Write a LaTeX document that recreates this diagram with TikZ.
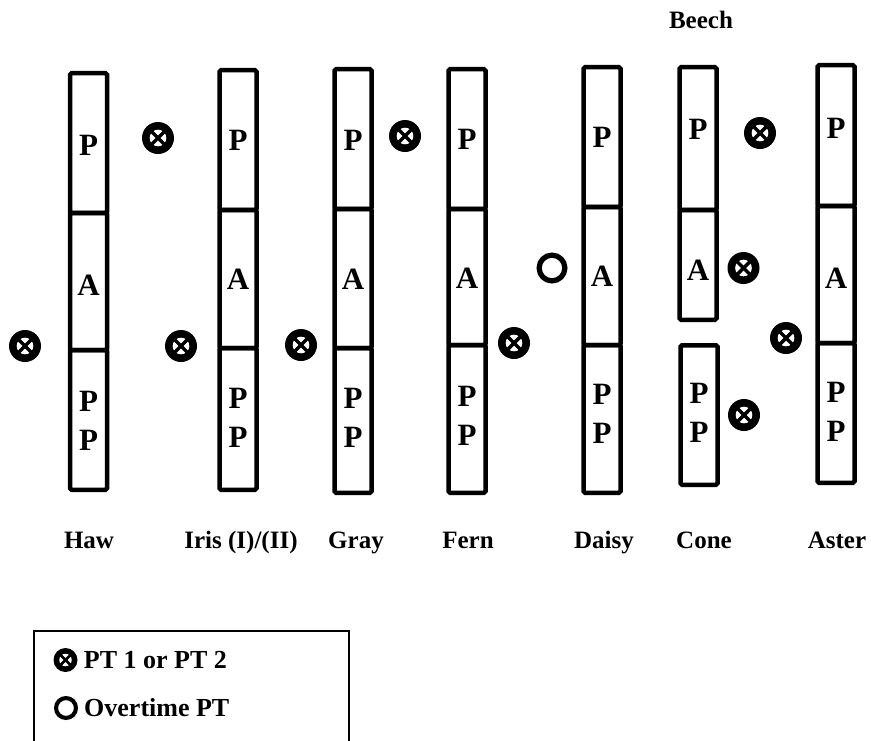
\documentclass[tikz,border=0pt]{standalone}
\usepackage{fontspec}
\setmainfont{Liberation Serif}
\usetikzlibrary{positioning}

\begin{document}
\begin{tikzpicture}[
    x=1pt, y=-1pt,
    strip/.style={draw, line width=4.5pt, rounded corners=1.5pt, minimum width=37pt, inner sep=0pt},
    letter/.style={inner sep=0pt, align=center, font=\bfseries\fontsize{31}{39}\selectfont},
    lbl/.style={inner sep=0pt, anchor=base, font=\bfseries\fontsize{25}{28}\selectfont},
    ptmark/.style={circle, fill=black, inner sep=0pt, minimum size=#1,
        path picture={
            \fill[white] (path picture bounding box.center) circle[radius=0.26*#1];
            \draw[line width=0.11*#1] ([shift={(-0.2*#1,-0.2*#1)}]path picture bounding box.center) -- ([shift={(0.2*#1,0.2*#1)}]path picture bounding box.center);
            \draw[line width=0.11*#1] ([shift={(-0.2*#1,0.2*#1)}]path picture bounding box.center) -- ([shift={(0.2*#1,-0.2*#1)}]path picture bounding box.center);
        }},
    ovmark/.style={circle, draw, inner sep=0pt, line width=0.17*#1, minimum size=0.83*#1},
    legbox/.style={draw, line width=1.8pt, inner sep=0pt},
    legtext/.style={inner sep=0pt, font=\bfseries\fontsize{26}{30}\selectfont}
]
\useasboundingbox (0,0) rectangle (871,740);

% strips
\node[strip, minimum height=139.75pt] (haw1) at (88.5,143.1) {};
\node[strip, minimum height=137pt] (haw2) at (88.5,281.5) {};
\node[strip, minimum height=139.75pt] (haw3) at (88.5,419.9) {};

\node[strip, minimum height=139.75pt] (iris1) at (238,140.1) {};
\node[strip, minimum height=138pt] (iris2) at (238,279) {};
\node[strip, minimum height=141.75pt] (iris3) at (238,418.9) {};

\node[strip, minimum height=139.75pt] (gray1) at (353,139.1) {};
\node[strip, minimum height=139pt] (gray2) at (353,278.5) {};
\node[strip, minimum height=144.75pt] (gray3) at (353,420.4) {};

\node[strip, minimum height=139.75pt] (fern1) at (467,139.1) {};
\node[strip, minimum height=136pt] (fern2) at (467,277) {};
\node[strip, minimum height=147.75pt] (fern3) at (467,418.9) {};

\node[strip, minimum height=139.75pt] (daisy1) at (602,137.1) {};
\node[strip, minimum height=138pt] (daisy2) at (602,276) {};
\node[strip, minimum height=147.75pt] (daisy3) at (602,418.9) {};

\node[strip, minimum height=142.75pt] (cone1) at (698,138.6) {};
\node[strip, minimum height=109.75pt] (cone2) at (698,264.9) {};
\node[strip, minimum height=139.5pt] (cone3) at (699,415) {};

\node[strip, minimum height=140.75pt] (aster1) at (836,135.6) {};
\node[strip, minimum height=137pt] (aster2) at (836,274.5) {};
\node[strip, minimum height=139.75pt] (aster3) at (836,412.9) {};

% letters
\node[letter] (hawP) at (88.5,145) {P};
\node[letter] (hawA) at (88.5,285) {A};
\node[letter] (hawPP) at (88.5,421) {P\\P};
\node[letter] (irisP) at (238,140) {P};
\node[letter] (irisA) at (238,279) {A};
\node[letter] (irisPP) at (238,417.5) {P\\P};
\node[letter] (grayP) at (353,140) {P};
\node[letter] (grayA) at (353,279) {A};
\node[letter] (grayPP) at (353,417.5) {P\\P};
\node[letter] (fernP) at (467,139) {P};
\node[letter] (fernA) at (467,278) {A};
\node[letter] (fernPP) at (467,416) {P\\P};
\node[letter] (daisyP) at (602,137.5) {P};
\node[letter] (daisyA) at (602,276.7) {A};
\node[letter] (daisyPP) at (602,414) {P\\P};
\node[letter] (coneP) at (698,129) {P};
\node[letter] (coneA) at (698,270) {A};
\node[letter] (conePP) at (699,412.5) {P\\P};
\node[letter] (asterP) at (836,128) {P};
\node[letter] (asterA) at (836,278) {A};
\node[letter] (asterPP) at (836,412) {P\\P};

% marks
\node[ptmark=32pt] (m1) at (25,346) {};
\node[ptmark=32pt] (m2) at (158,138) {};
\node[ptmark=32pt] (m3) at (181,346) {};
\node[ptmark=32pt] (m4) at (301,345) {};
\node[ptmark=32pt] (m5) at (405,136) {};
\node[ptmark=32pt] (m6) at (514,343) {};
\node[ovmark=31pt] (m7) at (552,268) {};
\node[ptmark=32pt] (m8) at (760,133) {};
\node[ptmark=32pt] (m9) at (743.5,268) {};
\node[ptmark=32pt] (m10) at (786,338) {};
\node[ptmark=32pt] (m11) at (744,415) {};

% labels
\node[lbl] (beech) at (701,28) {Beech};
\node[lbl] (haw) at (89,548) {Haw};
\node[lbl] (iris) at (241,548) {Iris (I)/(II)};
\node[lbl] (gray) at (356,548) {Gray};
\node[lbl] (fern) at (468,548) {Fern};
\node[lbl] (daisy) at (604,548) {Daisy};
\node[lbl] (cone) at (704,548) {Cone};
\node[lbl] (aster) at (837,548) {Aster};

% legend
\node[legbox, minimum width=315pt, minimum height=139pt] (legend) at (191.5,700.5) {};
\node[ptmark=24pt] (leg1) at (65.5,660) {};
\node[ovmark=24pt] (leg2) at (66,708) {};
\node[legtext, right=6pt of leg1] (legt1) {PT 1 or PT 2};
\node[legtext, right=6pt of leg2] (legt2) {Overtime PT};

\end{tikzpicture}
\end{document}
